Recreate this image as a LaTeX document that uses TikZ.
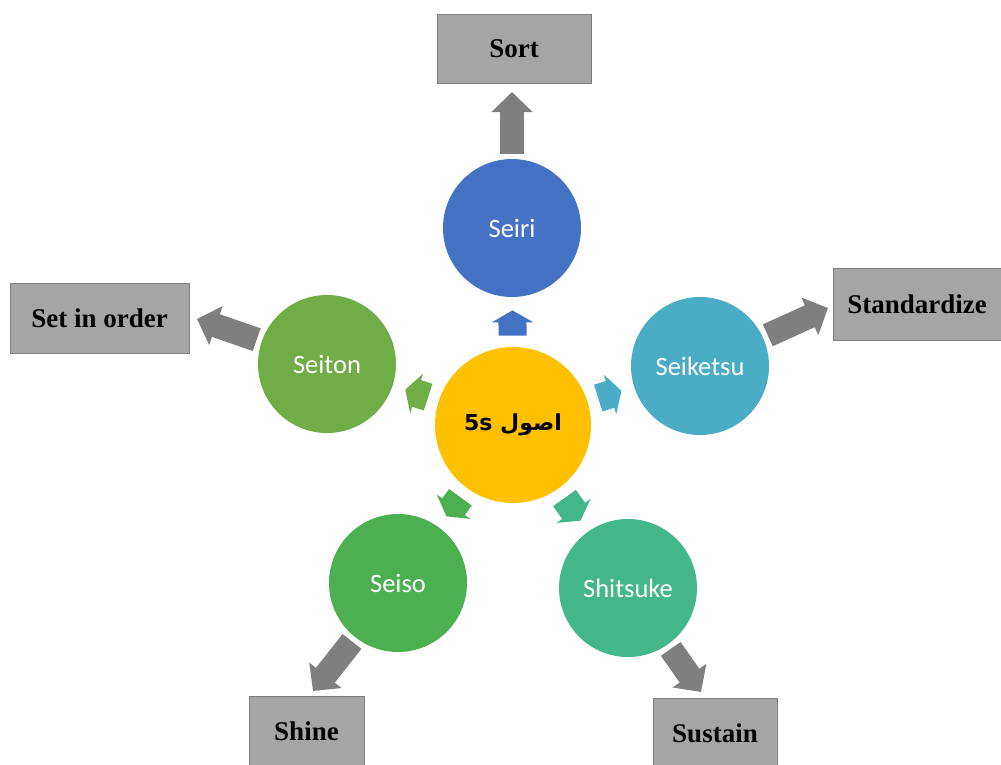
\documentclass[tikz,border=0pt]{standalone}
\usepackage{fontspec}
\usetikzlibrary{arrows.meta}
\TeXXeTstate=1
\newfontfamily\ballfont{Carlito}
\newfontfamily\tagfont{Liberation Serif}
\newfontfamily\arabicfont[Script=Arabic]{DejaVu Sans}

\definecolor{hubyellow}{RGB}{255,192,0}
\definecolor{seiriblue}{RGB}{68,114,196}
\definecolor{seitongreen}{RGB}{112,173,71}
\definecolor{seiketsuteal}{RGB}{75,172,198}
\definecolor{seisogreen}{RGB}{76,175,80}
\definecolor{shitsukegreen}{RGB}{67,182,138}
\definecolor{taggray}{RGB}{165,165,165}
\definecolor{tagline}{RGB}{127,127,127}
\definecolor{arrowgray}{RGB}{127,127,127}

\tikzset{every picture/.style={line width=0.75pt}}

\begin{document}
\begin{tikzpicture}[x=1pt,y=1pt,yscale=-1,xscale=1,
  ball/.style={circle,draw=none,minimum size=138pt,inner sep=0pt,text=white,font=\ballfont\fontsize{26.5}{30}\selectfont},
  tag/.style={rectangle,draw=tagline,fill=taggray,line width=1pt,minimum height=69pt,inner sep=0pt,font=\tagfont\bfseries\fontsize{27}{30}\selectfont},
  hubarrow/.style={line width=28pt,shorten <=11pt,shorten >=13pt,-{Triangle[width=41pt,length=12pt]}},
  outarrow/.style={line width=24pt,draw=arrowgray,shorten <=5pt,-{Triangle[width=40pt,length=20pt]}}]
\useasboundingbox (0,0) rectangle (1001,764);

%Shape: Circle
\node[ball,fill=hubyellow,minimum size=156pt,text=black,font=\arabicfont\bfseries\fontsize{22}{26}\selectfont] (hub) at (513,425) {\beginR اصول \beginL 5s\endL\endR};
%Shape: Circle
\node[ball,fill=seiriblue] (seiri) at (512,228) {Seiri};
%Shape: Circle
\node[ball,fill=seitongreen] (seiton) at (327,364) {Seiton};
%Shape: Circle
\node[ball,fill=seiketsuteal] (seiketsu) at (700,366) {Seiketsu};
%Shape: Circle
\node[ball,fill=seisogreen] (seiso) at (398,583) {Seiso};
%Shape: Circle
\node[ball,fill=shitsukegreen] (shitsuke) at (628,588) {Shitsuke};

%Shape: Rectangle
\node[tag,minimum width=154pt] (sort) at (514,48.5) {Sort};
%Shape: Rectangle
\node[tag,minimum width=179pt,minimum height=70pt] (setorder) at (99.5,318) {Set in order};
%Shape: Rectangle
\node[tag,minimum width=168pt,minimum height=72pt] (standard) at (917,304) {Standardize};
%Shape: Rectangle
\node[tag,minimum width=115pt] (shine) at (306.5,731) {Shine};
%Shape: Rectangle
\node[tag,minimum width=124pt] (sustain) at (715,733) {Sustain};

% Arrow tips
\coordinate (sortTip) at (512,92);
\coordinate (setorderTip) at (197,319);
\coordinate (standardTip) at (828,308);
\coordinate (shineTip) at (313,691);
\coordinate (sustainTip) at (701,692);

%Block Arrows (hub)
\draw[hubarrow,draw=seiriblue] (hub) -- (seiri);
\draw[hubarrow,draw=seitongreen] (hub) -- (seiton);
\draw[hubarrow,draw=seiketsuteal] (hub) -- (seiketsu);
\draw[hubarrow,draw=seisogreen] (hub) -- (seiso);
\draw[hubarrow,draw=shitsukegreen] (hub) -- (shitsuke);

%Block Arrows (out)
\draw[outarrow] (seiri) -- (sortTip);
\draw[outarrow] (seiton) -- (setorderTip);
\draw[outarrow] (seiketsu) -- (standardTip);
\draw[outarrow] (seiso) -- (shineTip);
\draw[outarrow] (shitsuke) -- (sustainTip);

\end{tikzpicture}
\end{document}
